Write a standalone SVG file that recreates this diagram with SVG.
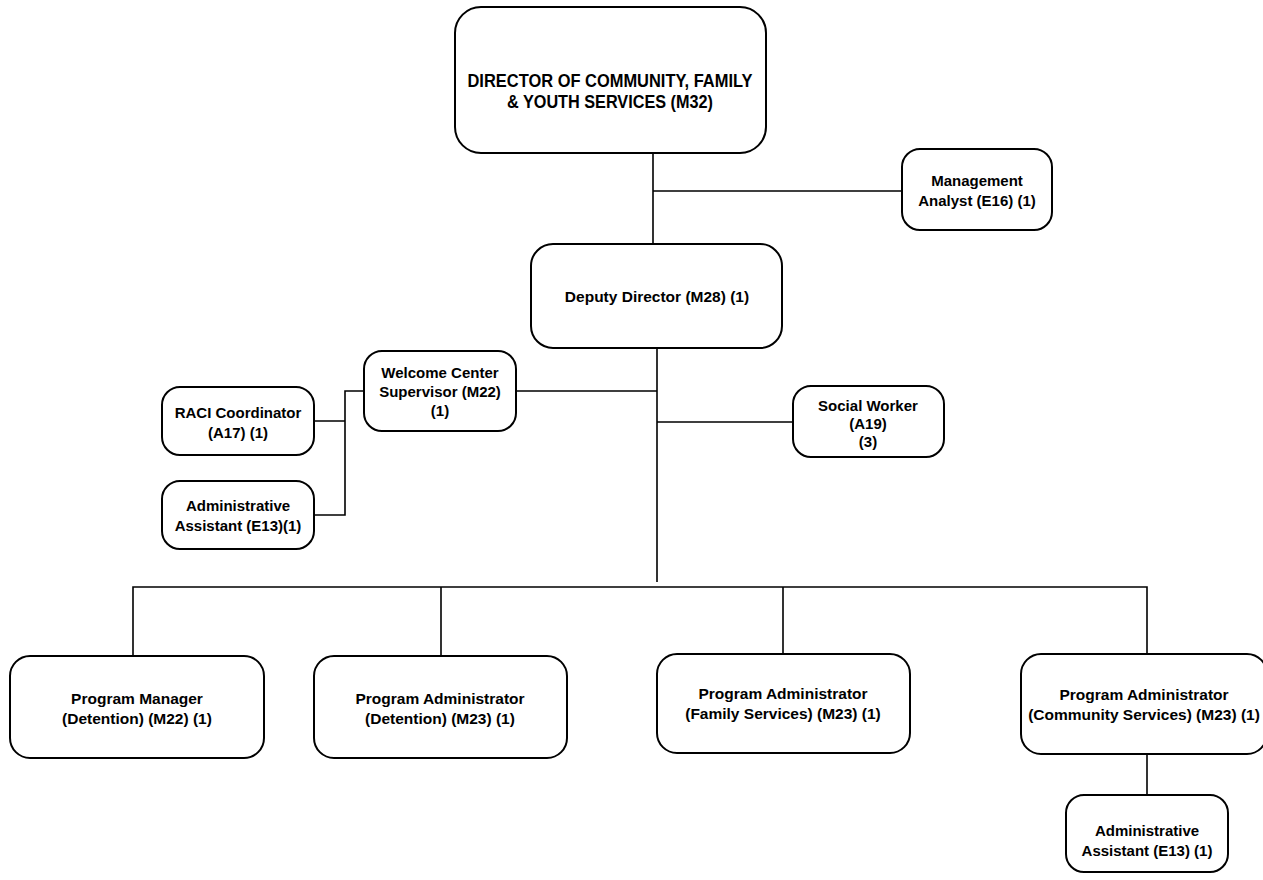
<svg xmlns="http://www.w3.org/2000/svg" width="1263" height="880" viewBox="0 0 1263 880">
<style>
.box{fill:#fff;stroke:#000;stroke-width:2}
.t{font-family:"Liberation Sans",Arial,sans-serif;font-weight:bold;font-size:15.5px;text-anchor:middle;fill:#000}
.s{font-size:15px}
.big{font-size:18.5px}
.c{fill:none;stroke:#000;stroke-width:1.6}
</style>
<rect width="1263" height="880" fill="#fff"/>
<g id="connectors">
<path class="c" d="M653 153V244M653 191H902"/>
<path class="c" d="M657 348V582M516 391H657M657 422H793"/>
<path class="c" d="M364 391H345V515H314M314 421H345"/>
<path class="c" d="M133 656V587H1147V654M441 587V656M783 587V654"/>
<path class="c" d="M1147 754V795"/>
</g>
<g id="director"><rect class="box" x="455" y="7" width="311" height="146" rx="26"/>
<text class="t big" x="610" y="87" textLength="285" lengthAdjust="spacingAndGlyphs">DIRECTOR OF COMMUNITY, FAMILY</text>
<text class="t big" x="610" y="108" textLength="206" lengthAdjust="spacingAndGlyphs">&amp; YOUTH SERVICES (M32)</text></g>
<g id="mgmt"><rect class="box" x="902" y="149" width="150" height="81" rx="18"/>
<text class="t s" x="977" y="186">Management</text><text class="t s" x="977" y="206">Analyst (E16) (1)</text></g>
<g id="deputy"><rect class="box" x="531" y="244" width="251" height="104" rx="22"/>
<text class="t" x="657" y="302">Deputy Director (M28) (1)</text></g>
<g id="welcome"><rect class="box" x="364" y="351" width="152" height="80" rx="18"/>
<text class="t s" x="440" y="378">Welcome Center</text><text class="t s" x="440" y="397">Supervisor (M22)</text><text class="t s" x="440" y="416">(1)</text></g>
<g id="social"><rect class="box" x="793" y="386" width="151" height="71" rx="18"/>
<text class="t s" x="868" y="411">Social Worker</text><text class="t s" x="868" y="429">(A19)</text><text class="t s" x="868" y="447">(3)</text></g>
<g id="raci"><rect class="box" x="162" y="387" width="152" height="68" rx="18"/>
<text class="t s" x="238" y="418">RACI Coordinator</text><text class="t s" x="238" y="438">(A17) (1)</text></g>
<g id="admin1"><rect class="box" x="162" y="481" width="152" height="68" rx="18"/>
<text class="t s" x="238" y="511">Administrative</text><text class="t s" x="238" y="531">Assistant (E13)(1)</text></g>
<g id="pm"><rect class="box" x="10" y="656" width="254" height="102" rx="20"/>
<text class="t" x="137" y="704">Program Manager</text><text class="t" x="137" y="724">(Detention) (M22) (1)</text></g>
<g id="pad"><rect class="box" x="314" y="656" width="253" height="102" rx="20"/>
<text class="t" x="440" y="704">Program Administrator</text><text class="t" x="440" y="724">(Detention) (M23) (1)</text></g>
<g id="paf"><rect class="box" x="657" y="654" width="253" height="99" rx="20"/>
<text class="t" x="783" y="699">Program Administrator</text><text class="t" x="783" y="719">(Family Services) (M23) (1)</text></g>
<g id="pac"><rect class="box" x="1021" y="654" width="246" height="100" rx="20"/>
<text class="t" x="1144" y="700">Program Administrator</text><text class="t" x="1144" y="720">(Community Services) (M23) (1)</text></g>
<g id="admin2"><rect class="box" x="1066" y="795" width="162" height="77" rx="18"/>
<text class="t s" x="1147" y="836">Administrative</text><text class="t s" x="1147" y="856">Assistant (E13) (1)</text></g>
</svg>
